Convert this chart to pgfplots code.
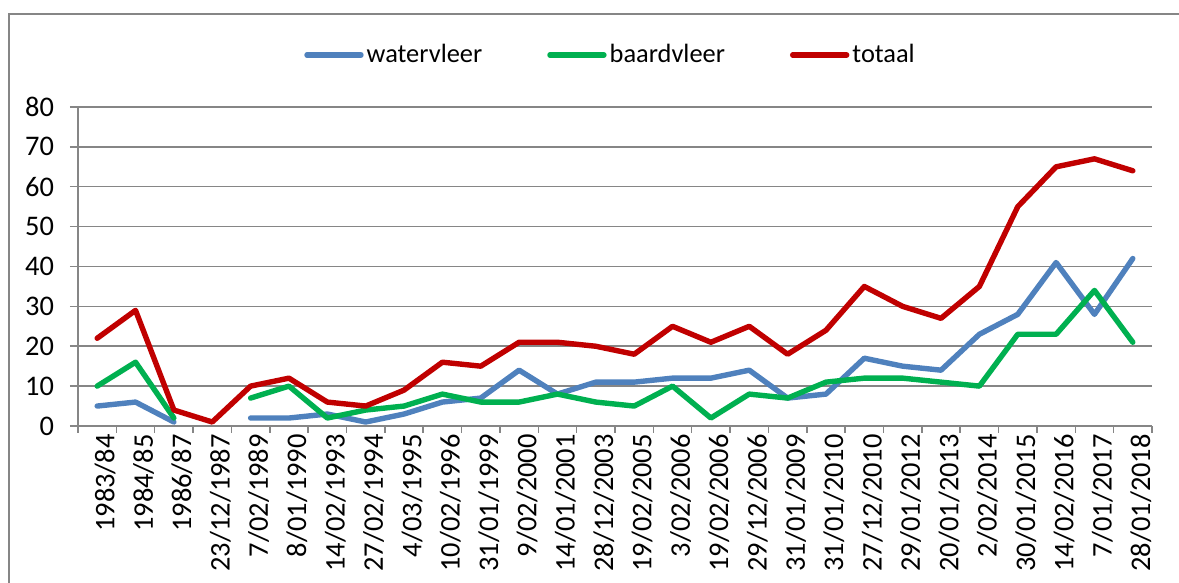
\documentclass[border=0pt]{standalone}
\usepackage{fontspec}
\setmainfont{Carlito}
\usepackage{pgfplots}
\pgfplotsset{compat=1.18}
\usepackage{pgfplotstable}
\definecolor{cblue}{HTML}{4F81BD}
\definecolor{cgreen}{HTML}{00B050}
\definecolor{cred}{HTML}{C00000}
\definecolor{axgray}{HTML}{868686}

\pgfplotstableread{
x w b t
0 5 10 22
1 6 16 29
2 1 2 4
3 nan nan 1
4 2 7 10
5 2 10 12
6 3 2 6
7 1 4 5
8 3 5 9
9 6 8 16
10 7 6 15
11 14 6 21
12 8 8 21
13 11 6 20
14 11 5 18
15 12 10 25
16 12 2 21
17 14 8 25
18 7 7 18
19 8 11 24
20 17 12 35
21 15 12 30
22 14 11 27
23 23 10 35
24 28 23 55
25 41 23 65
26 28 34 67
27 42 21 64
}\data

\begin{document}
\begin{tikzpicture}
\begin{axis}[
  at={(39pt,78.5pt)}, anchor=south west,
  scale only axis, width=537pt, height=159.5pt,
  xmin=-0.5, xmax=27.5, ymin=0, ymax=80,
  xtick={0,...,27},
  xticklabels={1983/84,1984/85,1986/87,23/12/1987,7/02/1989,8/01/1990,14/02/1993,27/02/1994,4/03/1995,10/02/1996,31/01/1999,9/02/2000,14/01/2001,28/12/2003,19/02/2005,3/02/2006,19/02/2006,29/12/2006,31/01/2009,31/01/2010,27/12/2010,29/01/2012,20/01/2013,2/02/2014,30/01/2015,14/02/2016,7/01/2017,28/01/2018},
  minor xtick={-0.5,0.5,...,27.5},
  ytick={0,10,...,80},
  ymajorgrids,
  grid style={draw=axgray, line width=0.75pt},
  axis x line*=bottom, axis y line*=left,
  axis line style={-, draw=axgray, line width=0.9pt},
  tick align=outside,
  major tick length=4pt, minor tick length=3.5pt,
  major x tick style={draw=none},
  minor x tick style={draw=axgray, line width=0.75pt},
  major y tick style={draw=axgray, line width=0.75pt},
  /pgf/number format/assume math mode=true,
  xticklabel style={rotate=90, anchor=east, font=\fontsize{14.2}{16}\selectfont, yshift=-4pt, inner sep=0pt},
  yticklabel style={font=\fontsize{14.2}{16}\selectfont, xshift=-4.5pt},
  unbounded coords=jump,
  legend columns=3,
  legend style={at={(0.4963,1.163)}, anchor=center, draw=none, fill=none,
    font=\fontsize{13.2}{15}\selectfont,
    /tikz/every even column/.append style={column sep=31pt},
    nodes={inner sep=1.5pt}},
  legend image code/.code={\draw[#1, line cap=round] (0pt,0pt) -- (27pt,0pt);},
  every axis plot/.append style={line width=2.7pt, line join=round, line cap=round, mark=none},
]
\addplot[cblue] table[x=x, y=w] {\data};
\addlegendentry{watervleer}
\addplot[cgreen] table[x=x, y=b] {\data};
\addlegendentry{baardvleer}
\addplot[cred] table[x=x, y=t] {\data};
\addlegendentry{totaal}
\end{axis}
\draw[axgray, line width=0.75pt] (4.5pt,-1pt) -- (4.5pt,284.5pt) -- (591pt,284.5pt);
\pgfresetboundingbox
\path[use as bounding box] (0,0) rectangle (589.5pt,291.5pt);
\end{tikzpicture}
\end{document}
